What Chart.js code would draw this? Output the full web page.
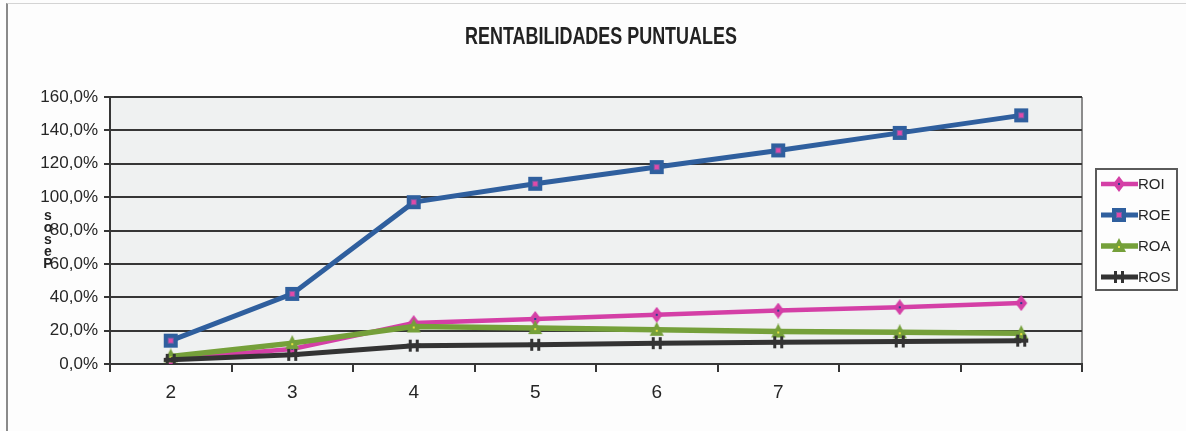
<!DOCTYPE html>
<html>
<head>
<meta charset="utf-8">
<title>Rentabilidades puntuales</title>
<script src="https://cdn.jsdelivr.net/npm/chart.js@4.4.1/dist/chart.umd.min.js"></script>
<style>
    html, body { margin: 0; padding: 0; background: #fdfdfd; }
    #wrap { position: relative; width: 1186px; height: 431px; }
    #frame {
        position: absolute; left: 6px; top: 3px; right: 0; bottom: 0;
        border-left: 2px solid #8a8a8a; border-top: 1px solid #d4d4d4;
        pointer-events: none;
    }
    canvas { display: block; }
</style>
</head>
<body>
<div id="wrap">
    <canvas id="chart" width="1186" height="431"></canvas>
    <div id="frame"></div>
</div>
<script>
// Periodos (los dos últimos sin etiqueta) y rentabilidades en %
const periodos = ['2', '3', '4', '5', '6', '7', '', ''];
const roi = [3, 9, 24.5, 27, 29.5, 32, 34, 36.5];
const roe = [14, 42, 97, 108, 118, 128, 138.5, 149];
const roa = [4.5, 12.5, 22.5, 21.5, 20.5, 19.5, 19, 18.5];
const ros = [2.5, 5.5, 11, 11.5, 12.5, 13, 13.5, 14];

const yMin = 0;
const yMax = 160;
const yStep = 20;

const FONT = '"Liberation Sans", Arial, sans-serif';
const TEXT = '#262626';
const GRID = '#363636';

// Excel-style markers drawn once on small canvases
function marker(kind, color, dot) {
    const c = document.createElement('canvas');
    c.width = 16;
    c.height = 16;
    const g = c.getContext('2d');
    g.fillStyle = color;
    if (kind === 'square') {
        g.fillRect(1, 1, 14, 14);
        g.fillStyle = '#7d5aa6';
        g.fillRect(5, 5, 6, 6);
        g.fillStyle = dot;
        g.fillRect(6, 6, 4, 4);
    } else if (kind === 'diamond') {
        g.beginPath();
        g.moveTo(8, 0); g.lineTo(14, 8); g.lineTo(8, 16); g.lineTo(2, 8);
        g.closePath();
        g.fill();
        g.fillStyle = dot;
        g.fillRect(7, 7, 2, 2);
    } else if (kind === 'triangle') {
        g.beginPath();
        g.moveTo(8, 0); g.lineTo(15, 14); g.lineTo(1, 14);
        g.closePath();
        g.fill();
        g.fillStyle = dot;
        g.fillRect(7, 8, 2, 2);
    } else {
        g.fillRect(3, 2, 3, 12);
        g.fillRect(10, 2, 3, 12);
        g.fillRect(1, 6, 14, 4);
    }
    return c;
}

const series = [
    { label: 'ROI', data: roi, color: '#d43fa6', width: 4.5, kind: 'diamond', dot: '#2b3f8c', order: 4 },
    { label: 'ROE', data: roe, color: '#2f5f9e', width: 5, kind: 'square', dot: '#e04aa8', order: 3 },
    { label: 'ROA', data: roa, color: '#75a03a', width: 5.5, kind: 'triangle', dot: '#e8e040', order: 2 },
    { label: 'ROS', data: ros, color: '#333333', width: 5, kind: 'hash', dot: '#333333', order: 1 },
];

const datasets = series.map(s => {
    const m = marker(s.kind, s.color, s.dot);
    return {
        label: s.label,
        data: s.data,
        borderColor: s.color,
        backgroundColor: s.color,
        borderWidth: s.width,
        pointStyle: m,
        pointRadius: 8,
        pointHoverRadius: 8,
        tension: 0,
        order: s.order,
        markerImage: m,
    };
});

const decor = {
    id: 'decor',
    beforeDraw(chart) {
        const { ctx, chartArea: a } = chart;
        ctx.save();
        ctx.fillStyle = '#eff1f1';
        ctx.fillRect(a.left, a.top, a.right - a.left, a.bottom - a.top);
        ctx.strokeStyle = '#8c8c8c';
        ctx.lineWidth = 2;
        ctx.beginPath();
        ctx.moveTo(a.right, a.top);
        ctx.lineTo(a.right, a.bottom);
        ctx.stroke();
        ctx.restore();
    },
    afterDraw(chart) {
        const ctx = chart.ctx;
        ctx.save();

        // title, condensed horizontally
        ctx.fillStyle = '#222';
        ctx.font = 'bold 23px ' + FONT;
        ctx.textAlign = 'center';
        ctx.textBaseline = 'middle';
        ctx.translate(601, 38);
        ctx.scale(0.78, 1);
        ctx.fillText('RENTABILIDADES PUNTUALES', 0, 0);
        ctx.setTransform(1, 0, 0, 1, 0, 0);

        // axis title, letters stacked
        ctx.font = 'bold 14px ' + FONT;
        ctx.fillStyle = '#222';
        const letters = 'Pesos'.split('').reverse();
        letters.forEach((ch, i) => ctx.fillText(ch, 48, 216 + i * 12));

        // legend
        const lx = 1096, ly = 169, lw = 81, lh = 121;
        ctx.strokeStyle = '#5a5a5a';
        ctx.lineWidth = 2;
        ctx.strokeRect(lx, ly, lw, lh);
        ctx.textAlign = 'left';
        ctx.font = '15px ' + FONT;
        chart.data.datasets.forEach((ds, i) => {
            const y = ly + 15 + i * 31;
            ctx.strokeStyle = ds.borderColor;
            ctx.lineWidth = ds.borderWidth;
            ctx.beginPath();
            ctx.moveTo(lx + 5, y);
            ctx.lineTo(lx + 42, y);
            ctx.stroke();
            const m = ds.markerImage;
            ctx.drawImage(m, lx + 23 - m.width / 2, y - m.height / 2);
            ctx.fillStyle = TEXT;
            ctx.fillText(ds.label, lx + 42, y + 1);
        });
        ctx.restore();
    },
};

new Chart(document.getElementById('chart'), {
    type: 'line',
    data: { labels: periodos, datasets },
    plugins: [decor],
    options: {
        responsive: false,
        animation: false,
        layout: { padding: { left: 0, right: 104, top: 97, bottom: 0 } },
        plugins: {
            legend: { display: false },
            title: { display: false },
            tooltip: { enabled: false },
        },
        scales: {
            x: {
                offset: true,
                afterFit: (scale) => { scale.height = 67; },
                grid: {
                    display: true,
                    drawOnChartArea: false,
                    offset: true,
                    tickLength: 8,
                    color: GRID,
                    lineWidth: 2,
                },
                border: { display: true, color: GRID, width: 2 },
                ticks: {
                    color: TEXT,
                    padding: 9,
                    maxRotation: 0,
                    autoSkip: false,
                    font: { family: FONT, size: 19 },
                },
            },
            y: {
                min: yMin,
                max: yMax,
                afterFit: (scale) => { scale.width = 110; },
                grid: { color: GRID, lineWidth: 2, tickLength: 6 },
                border: { display: true, color: GRID, width: 2 },
                ticks: {
                    stepSize: yStep,
                    color: TEXT,
                    padding: 6,
                    font: { family: FONT, size: 17 },
                    callback: (v) => v.toFixed(1).replace('.', ',') + '%',
                },
            },
        },
    },
});
</script>
</body>
</html>
